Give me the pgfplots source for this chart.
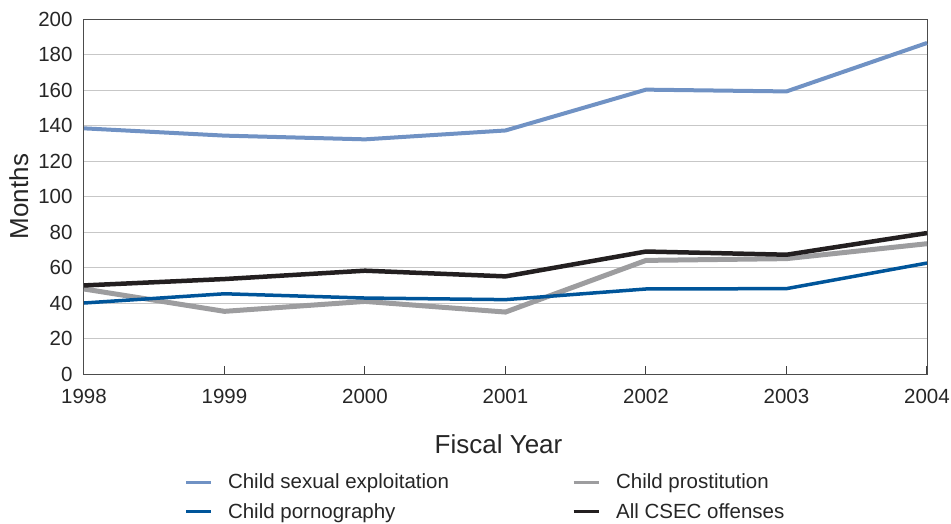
\documentclass[border=0pt]{standalone}
\usepackage{fontspec}
\setmainfont{Liberation Sans}
\usepackage{pgfplots}
\pgfplotsset{compat=1.18}

\definecolor{cseBlue}{HTML}{7092C4}
\definecolor{porBlue}{HTML}{00559A}
\definecolor{proGray}{HTML}{9D9D9F}
\definecolor{allBlack}{HTML}{231F20}

\begin{document}
\begin{tikzpicture}
  \begin{axis}[
    name=ax,
    scale only axis,
    width=843pt, height=355pt,
    xmin=1998, xmax=2004,
    ymin=0, ymax=200,
    xtick={1998,1999,...,2004},
    ytick={0,20,...,200},
    xticklabel style={/pgf/number format/1000 sep={}},
    /pgf/number format/assume math mode=true,
    tick label style={font=\fontsize{20.5}{24}\selectfont, text=black!85},
    xticklabel style={yshift=-12pt},
    yticklabel style={xshift=-8pt},
    ytick style={draw=none},
    xtick pos=bottom,
    tick align=inside,
    major tick length=8pt,
    xtick style={draw=black!75, line width=1pt},
    ymajorgrids,
    grid style={draw=black!22, line width=1pt},
    axis line style={draw=black!70, line width=1pt},
    xlabel={Fiscal Year},
    ylabel={Months},
    label style={font=\fontsize{26}{30}\selectfont, text=black!85},
    xlabel style={yshift=-24pt, xshift=-7pt},
    ylabel style={yshift=3pt},
    legend columns=2,
    legend cell align=left,
    legend style={
      at={(0.119,-0.275)}, anchor=north west,
      draw=none, fill=none, inner sep=0pt,
      font=\fontsize{20.5}{24}\selectfont, text=black!85,
      /tikz/every even column/.append style={column sep=121pt},
      row sep=9pt,
    },
    legend image code/.code={
      \draw[#1, line width=3pt] (0pt,0pt) -- (25pt,0pt);
      \path (38pt,0pt);
    },
    clip=false,
  ]
    \addplot[cseBlue, line width=4pt] coordinates {
      (1998,138.4) (1999,134.3) (2000,132.2) (2001,137.2)
      (2002,160.2) (2003,159.2) (2004,186.5)
    };
    \addlegendentry{Child sexual exploitation}

    \addplot[proGray, line width=5pt] coordinates {
      (1998,47.9) (1999,35.3) (2000,40.9) (2001,34.9)
      (2002,64.0) (2003,65.0) (2004,73.4)
    };
    \addlegendentry{Child prostitution}

    \addplot[porBlue, line width=3.5pt] coordinates {
      (1998,40.0) (1999,45.2) (2000,42.8) (2001,41.9)
      (2002,47.9) (2003,48.1) (2004,62.5)
    };
    \addlegendentry{Child pornography}

    \addplot[allBlack, line width=4.5pt] coordinates {
      (1998,49.9) (1999,53.5) (2000,58.2) (2001,55.0)
      (2002,69.0) (2003,67.2) (2004,79.4)
    };
    \addlegendentry{All CSEC offenses}
  \end{axis}
  \pgfresetboundingbox
  \path (ax.south west) ++(-84pt,-149pt) rectangle ++(951pt,523pt);
\end{tikzpicture}
\end{document}
